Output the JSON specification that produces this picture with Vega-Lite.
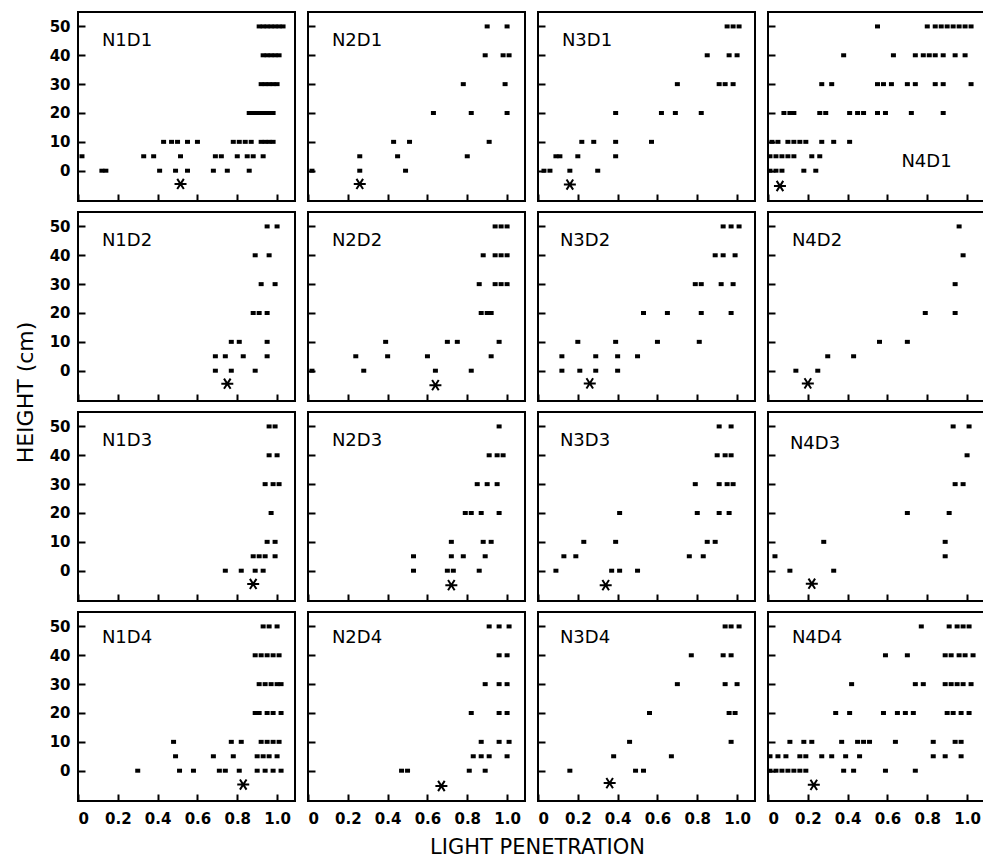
{
"$schema":"https://vega.github.io/schema/vega-lite/v6.json",
"background":"white",
"padding":{"left":13,"top":11,"right":0,"bottom":0},
"columns":4,
"spacing":{"row":11,"column":13},
"bounds":"flush",
"config":{
 "view":{"stroke":"black","strokeWidth":2},
 "axis":{"domain":false,"grid":false,"zindex":1,"labelOverlap":false,"tickSize":-7,"tickWidth":2,"tickColor":"black","labelColor":"black","labelFont":"DejaVu Sans","labelFontSize":15,"labelFontWeight":"bold","titleFont":"DejaVu Sans","titleFontWeight":"normal","titleColor":"black","titleFontSize":21}
},
"datasets":{
"obs":[
{"p":"N1D1","h":0,"l":0.12},{"p":"N1D1","h":0,"l":0.14},{"p":"N1D1","h":0,"l":0.41},{"p":"N1D1","h":0,"l":0.49},{"p":"N1D1","h":0,"l":0.55},{"p":"N1D1","h":0,"l":0.68},{"p":"N1D1","h":0,"l":0.75},{"p":"N1D1","h":0,"l":0.86},
{"p":"N1D1","h":5,"l":0.02},{"p":"N1D1","h":5,"l":0.33},{"p":"N1D1","h":5,"l":0.38},{"p":"N1D1","h":5,"l":0.515},{"p":"N1D1","h":5,"l":0.69},{"p":"N1D1","h":5,"l":0.72},{"p":"N1D1","h":5,"l":0.80},{"p":"N1D1","h":5,"l":0.85},{"p":"N1D1","h":5,"l":0.88},{"p":"N1D1","h":5,"l":0.93},
{"p":"N1D1","h":10,"l":0.43},{"p":"N1D1","h":10,"l":0.47},{"p":"N1D1","h":10,"l":0.50},{"p":"N1D1","h":10,"l":0.55},{"p":"N1D1","h":10,"l":0.60},{"p":"N1D1","h":10,"l":0.78},{"p":"N1D1","h":10,"l":0.81},{"p":"N1D1","h":10,"l":0.84},{"p":"N1D1","h":10,"l":0.87},{"p":"N1D1","h":10,"l":0.92},{"p":"N1D1","h":10,"l":0.94},{"p":"N1D1","h":10,"l":0.96},{"p":"N1D1","h":10,"l":0.98},
{"p":"N1D1","h":20,"l":0.86},{"p":"N1D1","h":20,"l":0.88},{"p":"N1D1","h":20,"l":0.90},{"p":"N1D1","h":20,"l":0.92},{"p":"N1D1","h":20,"l":0.94},{"p":"N1D1","h":20,"l":0.96},{"p":"N1D1","h":20,"l":0.98},
{"p":"N1D1","h":30,"l":0.92},{"p":"N1D1","h":30,"l":0.94},{"p":"N1D1","h":30,"l":0.96},{"p":"N1D1","h":30,"l":0.98},{"p":"N1D1","h":30,"l":1.0},
{"p":"N1D1","h":40,"l":0.93},{"p":"N1D1","h":40,"l":0.95},{"p":"N1D1","h":40,"l":0.97},{"p":"N1D1","h":40,"l":0.99},{"p":"N1D1","h":40,"l":1.01},
{"p":"N1D1","h":50,"l":0.91},{"p":"N1D1","h":50,"l":0.93},{"p":"N1D1","h":50,"l":0.95},{"p":"N1D1","h":50,"l":0.97},{"p":"N1D1","h":50,"l":0.99},{"p":"N1D1","h":50,"l":1.01},{"p":"N1D1","h":50,"l":1.03},

{"p":"N2D1","h":0,"l":0.02},{"p":"N2D1","h":0,"l":0.26},{"p":"N2D1","h":0,"l":0.49},
{"p":"N2D1","h":5,"l":0.26},{"p":"N2D1","h":5,"l":0.45},{"p":"N2D1","h":5,"l":0.80},
{"p":"N2D1","h":10,"l":0.43},{"p":"N2D1","h":10,"l":0.51},{"p":"N2D1","h":10,"l":0.91},
{"p":"N2D1","h":20,"l":0.63},{"p":"N2D1","h":20,"l":0.82},{"p":"N2D1","h":20,"l":1.0},
{"p":"N2D1","h":30,"l":0.78},{"p":"N2D1","h":30,"l":0.99},
{"p":"N2D1","h":40,"l":0.89},{"p":"N2D1","h":40,"l":0.98},{"p":"N2D1","h":40,"l":1.01},
{"p":"N2D1","h":50,"l":0.90},{"p":"N2D1","h":50,"l":1.0},

{"p":"N3D1","h":0,"l":0.03},{"p":"N3D1","h":0,"l":0.06},{"p":"N3D1","h":0,"l":0.16},{"p":"N3D1","h":0,"l":0.30},
{"p":"N3D1","h":5,"l":0.09},{"p":"N3D1","h":5,"l":0.11},{"p":"N3D1","h":5,"l":0.20},{"p":"N3D1","h":5,"l":0.39},
{"p":"N3D1","h":10,"l":0.22},{"p":"N3D1","h":10,"l":0.28},{"p":"N3D1","h":10,"l":0.39},{"p":"N3D1","h":10,"l":0.57},
{"p":"N3D1","h":20,"l":0.39},{"p":"N3D1","h":20,"l":0.62},{"p":"N3D1","h":20,"l":0.69},{"p":"N3D1","h":20,"l":0.82},
{"p":"N3D1","h":30,"l":0.70},{"p":"N3D1","h":30,"l":0.91},{"p":"N3D1","h":30,"l":0.94},{"p":"N3D1","h":30,"l":0.98},
{"p":"N3D1","h":40,"l":0.85},{"p":"N3D1","h":40,"l":0.96},{"p":"N3D1","h":40,"l":1.0},
{"p":"N3D1","h":50,"l":0.95},{"p":"N3D1","h":50,"l":0.98},{"p":"N3D1","h":50,"l":1.01},

{"p":"N4D1","h":0,"l":0.01},{"p":"N4D1","h":0,"l":0.04},{"p":"N4D1","h":0,"l":0.07},{"p":"N4D1","h":0,"l":0.18},{"p":"N4D1","h":0,"l":0.24},
{"p":"N4D1","h":5,"l":0.01},{"p":"N4D1","h":5,"l":0.04},{"p":"N4D1","h":5,"l":0.07},{"p":"N4D1","h":5,"l":0.10},{"p":"N4D1","h":5,"l":0.13},{"p":"N4D1","h":5,"l":0.22},{"p":"N4D1","h":5,"l":0.26},
{"p":"N4D1","h":10,"l":0.02},{"p":"N4D1","h":10,"l":0.05},{"p":"N4D1","h":10,"l":0.10},{"p":"N4D1","h":10,"l":0.13},{"p":"N4D1","h":10,"l":0.16},{"p":"N4D1","h":10,"l":0.19},{"p":"N4D1","h":10,"l":0.27},{"p":"N4D1","h":10,"l":0.33},{"p":"N4D1","h":10,"l":0.41},
{"p":"N4D1","h":20,"l":0.08},{"p":"N4D1","h":20,"l":0.11},{"p":"N4D1","h":20,"l":0.13},{"p":"N4D1","h":20,"l":0.26},{"p":"N4D1","h":20,"l":0.29},{"p":"N4D1","h":20,"l":0.41},{"p":"N4D1","h":20,"l":0.45},{"p":"N4D1","h":20,"l":0.48},{"p":"N4D1","h":20,"l":0.55},{"p":"N4D1","h":20,"l":0.59},{"p":"N4D1","h":20,"l":0.72},{"p":"N4D1","h":20,"l":0.88},
{"p":"N4D1","h":30,"l":0.27},{"p":"N4D1","h":30,"l":0.32},{"p":"N4D1","h":30,"l":0.55},{"p":"N4D1","h":30,"l":0.58},{"p":"N4D1","h":30,"l":0.62},{"p":"N4D1","h":30,"l":0.70},{"p":"N4D1","h":30,"l":0.74},{"p":"N4D1","h":30,"l":0.84},{"p":"N4D1","h":30,"l":0.88},{"p":"N4D1","h":30,"l":1.02},
{"p":"N4D1","h":40,"l":0.38},{"p":"N4D1","h":40,"l":0.63},{"p":"N4D1","h":40,"l":0.74},{"p":"N4D1","h":40,"l":0.78},{"p":"N4D1","h":40,"l":0.81},{"p":"N4D1","h":40,"l":0.84},{"p":"N4D1","h":40,"l":0.88},{"p":"N4D1","h":40,"l":0.94},{"p":"N4D1","h":40,"l":0.99},
{"p":"N4D1","h":50,"l":0.55},{"p":"N4D1","h":50,"l":0.80},{"p":"N4D1","h":50,"l":0.84},{"p":"N4D1","h":50,"l":0.87},{"p":"N4D1","h":50,"l":0.90},{"p":"N4D1","h":50,"l":0.93},{"p":"N4D1","h":50,"l":0.96},{"p":"N4D1","h":50,"l":0.99},{"p":"N4D1","h":50,"l":1.02},

{"p":"N1D2","h":0,"l":0.69},{"p":"N1D2","h":0,"l":0.77},{"p":"N1D2","h":0,"l":0.89},
{"p":"N1D2","h":5,"l":0.69},{"p":"N1D2","h":5,"l":0.74},{"p":"N1D2","h":5,"l":0.83},{"p":"N1D2","h":5,"l":0.95},
{"p":"N1D2","h":10,"l":0.77},{"p":"N1D2","h":10,"l":0.81},{"p":"N1D2","h":10,"l":0.95},
{"p":"N1D2","h":20,"l":0.88},{"p":"N1D2","h":20,"l":0.91},{"p":"N1D2","h":20,"l":0.95},
{"p":"N1D2","h":30,"l":0.92},{"p":"N1D2","h":30,"l":0.99},
{"p":"N1D2","h":40,"l":0.89},{"p":"N1D2","h":40,"l":0.96},
{"p":"N1D2","h":50,"l":0.95},{"p":"N1D2","h":50,"l":1.0},

{"p":"N2D2","h":0,"l":0.02},{"p":"N2D2","h":0,"l":0.28},{"p":"N2D2","h":0,"l":0.64},{"p":"N2D2","h":0,"l":0.82},
{"p":"N2D2","h":5,"l":0.24},{"p":"N2D2","h":5,"l":0.40},{"p":"N2D2","h":5,"l":0.60},{"p":"N2D2","h":5,"l":0.92},
{"p":"N2D2","h":10,"l":0.39},{"p":"N2D2","h":10,"l":0.70},{"p":"N2D2","h":10,"l":0.75},{"p":"N2D2","h":10,"l":0.96},
{"p":"N2D2","h":20,"l":0.87},{"p":"N2D2","h":20,"l":0.90},{"p":"N2D2","h":20,"l":0.92},
{"p":"N2D2","h":30,"l":0.86},{"p":"N2D2","h":30,"l":0.94},{"p":"N2D2","h":30,"l":0.97},{"p":"N2D2","h":30,"l":1.0},
{"p":"N2D2","h":40,"l":0.88},{"p":"N2D2","h":40,"l":0.94},{"p":"N2D2","h":40,"l":0.97},{"p":"N2D2","h":40,"l":1.0},
{"p":"N2D2","h":50,"l":0.94},{"p":"N2D2","h":50,"l":0.97},{"p":"N2D2","h":50,"l":1.0},

{"p":"N3D2","h":0,"l":0.12},{"p":"N3D2","h":0,"l":0.21},{"p":"N3D2","h":0,"l":0.29},{"p":"N3D2","h":0,"l":0.40},
{"p":"N3D2","h":5,"l":0.12},{"p":"N3D2","h":5,"l":0.29},{"p":"N3D2","h":5,"l":0.40},{"p":"N3D2","h":5,"l":0.50},
{"p":"N3D2","h":10,"l":0.20},{"p":"N3D2","h":10,"l":0.39},{"p":"N3D2","h":10,"l":0.60},{"p":"N3D2","h":10,"l":0.81},
{"p":"N3D2","h":20,"l":0.53},{"p":"N3D2","h":20,"l":0.65},{"p":"N3D2","h":20,"l":0.82},{"p":"N3D2","h":20,"l":0.97},
{"p":"N3D2","h":30,"l":0.79},{"p":"N3D2","h":30,"l":0.82},{"p":"N3D2","h":30,"l":0.92},{"p":"N3D2","h":30,"l":0.98},
{"p":"N3D2","h":40,"l":0.89},{"p":"N3D2","h":40,"l":0.93},{"p":"N3D2","h":40,"l":0.99},
{"p":"N3D2","h":50,"l":0.93},{"p":"N3D2","h":50,"l":0.97},{"p":"N3D2","h":50,"l":1.01},

{"p":"N4D2","h":0,"l":0.14},{"p":"N4D2","h":0,"l":0.25},
{"p":"N4D2","h":5,"l":0.30},{"p":"N4D2","h":5,"l":0.43},
{"p":"N4D2","h":10,"l":0.56},{"p":"N4D2","h":10,"l":0.70},
{"p":"N4D2","h":20,"l":0.79},{"p":"N4D2","h":20,"l":0.94},
{"p":"N4D2","h":30,"l":0.94},
{"p":"N4D2","h":40,"l":0.98},
{"p":"N4D2","h":50,"l":0.96},

{"p":"N1D3","h":0,"l":0.74},{"p":"N1D3","h":0,"l":0.82},{"p":"N1D3","h":0,"l":0.89},{"p":"N1D3","h":0,"l":0.93},
{"p":"N1D3","h":5,"l":0.88},{"p":"N1D3","h":5,"l":0.91},{"p":"N1D3","h":5,"l":0.94},{"p":"N1D3","h":5,"l":0.99},
{"p":"N1D3","h":10,"l":0.95},{"p":"N1D3","h":10,"l":0.99},
{"p":"N1D3","h":20,"l":0.97},
{"p":"N1D3","h":30,"l":0.94},{"p":"N1D3","h":30,"l":0.98},{"p":"N1D3","h":30,"l":1.01},
{"p":"N1D3","h":40,"l":0.96},{"p":"N1D3","h":40,"l":1.0},
{"p":"N1D3","h":50,"l":0.96},{"p":"N1D3","h":50,"l":0.99},

{"p":"N2D3","h":0,"l":0.53},{"p":"N2D3","h":0,"l":0.70},{"p":"N2D3","h":0,"l":0.73},{"p":"N2D3","h":0,"l":0.86},
{"p":"N2D3","h":5,"l":0.53},{"p":"N2D3","h":5,"l":0.72},{"p":"N2D3","h":5,"l":0.78},{"p":"N2D3","h":5,"l":0.89},
{"p":"N2D3","h":10,"l":0.72},{"p":"N2D3","h":10,"l":0.88},{"p":"N2D3","h":10,"l":0.92},
{"p":"N2D3","h":20,"l":0.79},{"p":"N2D3","h":20,"l":0.82},{"p":"N2D3","h":20,"l":0.87},{"p":"N2D3","h":20,"l":0.96},
{"p":"N2D3","h":30,"l":0.85},{"p":"N2D3","h":30,"l":0.90},{"p":"N2D3","h":30,"l":0.95},
{"p":"N2D3","h":40,"l":0.91},{"p":"N2D3","h":40,"l":0.95},{"p":"N2D3","h":40,"l":0.98},
{"p":"N2D3","h":50,"l":0.96},

{"p":"N3D3","h":0,"l":0.09},{"p":"N3D3","h":0,"l":0.37},{"p":"N3D3","h":0,"l":0.41},{"p":"N3D3","h":0,"l":0.50},
{"p":"N3D3","h":5,"l":0.13},{"p":"N3D3","h":5,"l":0.19},{"p":"N3D3","h":5,"l":0.76},{"p":"N3D3","h":5,"l":0.83},
{"p":"N3D3","h":10,"l":0.23},{"p":"N3D3","h":10,"l":0.39},{"p":"N3D3","h":10,"l":0.85},{"p":"N3D3","h":10,"l":0.89},
{"p":"N3D3","h":20,"l":0.41},{"p":"N3D3","h":20,"l":0.80},{"p":"N3D3","h":20,"l":0.91},{"p":"N3D3","h":20,"l":0.96},
{"p":"N3D3","h":30,"l":0.79},{"p":"N3D3","h":30,"l":0.91},{"p":"N3D3","h":30,"l":0.95},{"p":"N3D3","h":30,"l":0.98},
{"p":"N3D3","h":40,"l":0.90},{"p":"N3D3","h":40,"l":0.94},{"p":"N3D3","h":40,"l":0.97},
{"p":"N3D3","h":50,"l":0.91},{"p":"N3D3","h":50,"l":0.97},

{"p":"N4D3","h":0,"l":0.11},{"p":"N4D3","h":0,"l":0.33},
{"p":"N4D3","h":5,"l":0.035},{"p":"N4D3","h":5,"l":0.89},
{"p":"N4D3","h":10,"l":0.28},{"p":"N4D3","h":10,"l":0.89},
{"p":"N4D3","h":20,"l":0.70},{"p":"N4D3","h":20,"l":0.91},
{"p":"N4D3","h":30,"l":0.94},{"p":"N4D3","h":30,"l":0.98},
{"p":"N4D3","h":40,"l":1.0},
{"p":"N4D3","h":50,"l":0.93},{"p":"N4D3","h":50,"l":1.01},

{"p":"N1D4","h":0,"l":0.30},{"p":"N1D4","h":0,"l":0.51},{"p":"N1D4","h":0,"l":0.58},{"p":"N1D4","h":0,"l":0.71},{"p":"N1D4","h":0,"l":0.74},{"p":"N1D4","h":0,"l":0.81},{"p":"N1D4","h":0,"l":0.90},{"p":"N1D4","h":0,"l":0.94},{"p":"N1D4","h":0,"l":0.98},{"p":"N1D4","h":0,"l":1.02},
{"p":"N1D4","h":5,"l":0.49},{"p":"N1D4","h":5,"l":0.68},{"p":"N1D4","h":5,"l":0.78},{"p":"N1D4","h":5,"l":0.90},{"p":"N1D4","h":5,"l":0.93},{"p":"N1D4","h":5,"l":0.96},{"p":"N1D4","h":5,"l":1.0},
{"p":"N1D4","h":10,"l":0.48},{"p":"N1D4","h":10,"l":0.77},{"p":"N1D4","h":10,"l":0.82},{"p":"N1D4","h":10,"l":0.92},{"p":"N1D4","h":10,"l":0.95},{"p":"N1D4","h":10,"l":0.98},{"p":"N1D4","h":10,"l":1.01},
{"p":"N1D4","h":20,"l":0.89},{"p":"N1D4","h":20,"l":0.91},{"p":"N1D4","h":20,"l":0.95},{"p":"N1D4","h":20,"l":0.98},{"p":"N1D4","h":20,"l":1.02},
{"p":"N1D4","h":30,"l":0.91},{"p":"N1D4","h":30,"l":0.94},{"p":"N1D4","h":30,"l":0.97},{"p":"N1D4","h":30,"l":1.0},{"p":"N1D4","h":30,"l":1.02},
{"p":"N1D4","h":40,"l":0.89},{"p":"N1D4","h":40,"l":0.92},{"p":"N1D4","h":40,"l":0.95},{"p":"N1D4","h":40,"l":0.98},{"p":"N1D4","h":40,"l":1.01},
{"p":"N1D4","h":50,"l":0.93},{"p":"N1D4","h":50,"l":0.96},{"p":"N1D4","h":50,"l":1.0},

{"p":"N2D4","h":0,"l":0.47},{"p":"N2D4","h":0,"l":0.50},{"p":"N2D4","h":0,"l":0.81},{"p":"N2D4","h":0,"l":0.89},
{"p":"N2D4","h":5,"l":0.83},{"p":"N2D4","h":5,"l":0.87},{"p":"N2D4","h":5,"l":0.91},{"p":"N2D4","h":5,"l":1.0},
{"p":"N2D4","h":10,"l":0.87},{"p":"N2D4","h":10,"l":0.96},{"p":"N2D4","h":10,"l":1.01},
{"p":"N2D4","h":20,"l":0.82},{"p":"N2D4","h":20,"l":0.96},{"p":"N2D4","h":20,"l":1.0},
{"p":"N2D4","h":30,"l":0.89},{"p":"N2D4","h":30,"l":0.96},{"p":"N2D4","h":30,"l":1.0},
{"p":"N2D4","h":40,"l":0.96},{"p":"N2D4","h":40,"l":1.0},
{"p":"N2D4","h":50,"l":0.91},{"p":"N2D4","h":50,"l":0.96},{"p":"N2D4","h":50,"l":1.01},

{"p":"N3D4","h":0,"l":0.16},{"p":"N3D4","h":0,"l":0.49},{"p":"N3D4","h":0,"l":0.53},
{"p":"N3D4","h":5,"l":0.38},{"p":"N3D4","h":5,"l":0.67},
{"p":"N3D4","h":10,"l":0.46},{"p":"N3D4","h":10,"l":0.97},
{"p":"N3D4","h":20,"l":0.56},{"p":"N3D4","h":20,"l":0.96},{"p":"N3D4","h":20,"l":0.99},
{"p":"N3D4","h":30,"l":0.70},{"p":"N3D4","h":30,"l":0.94},{"p":"N3D4","h":30,"l":1.0},
{"p":"N3D4","h":40,"l":0.77},{"p":"N3D4","h":40,"l":0.93},{"p":"N3D4","h":40,"l":0.97},
{"p":"N3D4","h":50,"l":0.94},{"p":"N3D4","h":50,"l":0.97},{"p":"N3D4","h":50,"l":1.01},

{"p":"N4D4","h":0,"l":0.01},{"p":"N4D4","h":0,"l":0.04},{"p":"N4D4","h":0,"l":0.07},{"p":"N4D4","h":0,"l":0.10},{"p":"N4D4","h":0,"l":0.13},{"p":"N4D4","h":0,"l":0.16},{"p":"N4D4","h":0,"l":0.19},{"p":"N4D4","h":0,"l":0.38},{"p":"N4D4","h":0,"l":0.43},{"p":"N4D4","h":0,"l":0.59},{"p":"N4D4","h":0,"l":0.74},
{"p":"N4D4","h":5,"l":0.01},{"p":"N4D4","h":5,"l":0.05},{"p":"N4D4","h":5,"l":0.09},{"p":"N4D4","h":5,"l":0.16},{"p":"N4D4","h":5,"l":0.19},{"p":"N4D4","h":5,"l":0.27},{"p":"N4D4","h":5,"l":0.32},{"p":"N4D4","h":5,"l":0.39},{"p":"N4D4","h":5,"l":0.46},{"p":"N4D4","h":5,"l":0.83},{"p":"N4D4","h":5,"l":0.89},{"p":"N4D4","h":5,"l":0.97},
{"p":"N4D4","h":10,"l":0.11},{"p":"N4D4","h":10,"l":0.18},{"p":"N4D4","h":10,"l":0.22},{"p":"N4D4","h":10,"l":0.37},{"p":"N4D4","h":10,"l":0.45},{"p":"N4D4","h":10,"l":0.48},{"p":"N4D4","h":10,"l":0.51},{"p":"N4D4","h":10,"l":0.64},{"p":"N4D4","h":10,"l":0.83},{"p":"N4D4","h":10,"l":0.94},{"p":"N4D4","h":10,"l":0.97},
{"p":"N4D4","h":20,"l":0.34},{"p":"N4D4","h":20,"l":0.41},{"p":"N4D4","h":20,"l":0.58},{"p":"N4D4","h":20,"l":0.65},{"p":"N4D4","h":20,"l":0.69},{"p":"N4D4","h":20,"l":0.73},{"p":"N4D4","h":20,"l":0.90},{"p":"N4D4","h":20,"l":0.93},{"p":"N4D4","h":20,"l":0.97},{"p":"N4D4","h":20,"l":1.01},
{"p":"N4D4","h":30,"l":0.42},{"p":"N4D4","h":30,"l":0.74},{"p":"N4D4","h":30,"l":0.78},{"p":"N4D4","h":30,"l":0.89},{"p":"N4D4","h":30,"l":0.92},{"p":"N4D4","h":30,"l":0.95},{"p":"N4D4","h":30,"l":0.98},{"p":"N4D4","h":30,"l":1.02},
{"p":"N4D4","h":40,"l":0.59},{"p":"N4D4","h":40,"l":0.70},{"p":"N4D4","h":40,"l":0.89},{"p":"N4D4","h":40,"l":0.92},{"p":"N4D4","h":40,"l":0.96},{"p":"N4D4","h":40,"l":0.99},{"p":"N4D4","h":40,"l":1.03},
{"p":"N4D4","h":50,"l":0.77},{"p":"N4D4","h":50,"l":0.91},{"p":"N4D4","h":50,"l":0.95},{"p":"N4D4","h":50,"l":0.98},{"p":"N4D4","h":50,"l":1.01}
],
"means":[
{"p":"N1D1","l":0.515,"h":-4.6},{"p":"N2D1","l":0.26,"h":-4.6},{"p":"N3D1","l":0.16,"h":-4.8},{"p":"N4D1","l":0.06,"h":-5.3},
{"p":"N1D2","l":0.75,"h":-4.5},{"p":"N2D2","l":0.64,"h":-5.0},{"p":"N3D2","l":0.26,"h":-4.4},{"p":"N4D2","l":0.20,"h":-4.4},
{"p":"N1D3","l":0.88,"h":-4.6},{"p":"N2D3","l":0.72,"h":-5.0},{"p":"N3D3","l":0.34,"h":-5.0},{"p":"N4D3","l":0.22,"h":-4.5},
{"p":"N1D4","l":0.83,"h":-4.8},{"p":"N2D4","l":0.67,"h":-5.3},{"p":"N3D4","l":0.36,"h":-4.3},{"p":"N4D4","l":0.23,"h":-4.9}
]
},
"concat":[
{"width":217,"height":189,"layer":[
 {"data":{"name":"obs"},"transform":[{"filter":"datum.p=='N1D1'"}],"mark":{"type":"point","shape":"M-1,-0.8H1V0.8H-1Z","filled":true,"size":25,"color":"black","opacity":1,"clip":true},
  "encoding":{"x":{"field":"l","type":"quantitative","scale":{"domain":[0,1.09],"nice":false,"zero":false},"axis":{"values":[0,0.2,0.4,0.6,0.8,1],"tickCount":12,"title":null,"labels":false}},
   "y":{"field":"h","type":"quantitative","scale":{"domain":[-10.5,55],"nice":false,"zero":false},"axis":{"values":[0,10,20,30,40,50],"tickCount":12,"title":null,"labelPadding":15}}}},
 {"data":{"name":"means"},"transform":[{"filter":"datum.p=='N1D1'"}],"mark":{"type":"point","shape":"M-1,0L1,0M-0.55,-0.85L0.55,0.85M-0.55,0.85L0.55,-0.85","filled":false,"size":144,"strokeWidth":2,"color":"black","opacity":1},
  "encoding":{"x":{"field":"l","type":"quantitative"},"y":{"field":"h","type":"quantitative"}}},
 {"data":{"name":"means"},"transform":[{"filter":"datum.p=='N1D1'"}],"mark":{"type":"text","align":"left","baseline":"middle","font":"DejaVu Sans","fontSize":18,"color":"black"},
  "encoding":{"x":{"datum":0.12},"y":{"datum":45},"text":{"field":"p"}}}
]},
{"width":217,"height":189,"layer":[
 {"data":{"name":"obs"},"transform":[{"filter":"datum.p=='N2D1'"}],"mark":{"type":"point","shape":"M-1,-0.8H1V0.8H-1Z","filled":true,"size":25,"color":"black","opacity":1,"clip":true},
  "encoding":{"x":{"field":"l","type":"quantitative","scale":{"domain":[0,1.09],"nice":false,"zero":false},"axis":{"values":[0,0.2,0.4,0.6,0.8,1],"tickCount":12,"title":null,"labels":false}},
   "y":{"field":"h","type":"quantitative","scale":{"domain":[-10.5,55],"nice":false,"zero":false},"axis":{"values":[0,10,20,30,40,50],"tickCount":12,"title":null,"labels":false}}}},
 {"data":{"name":"means"},"transform":[{"filter":"datum.p=='N2D1'"}],"mark":{"type":"point","shape":"M-1,0L1,0M-0.55,-0.85L0.55,0.85M-0.55,0.85L0.55,-0.85","filled":false,"size":144,"strokeWidth":2,"color":"black","opacity":1},
  "encoding":{"x":{"field":"l","type":"quantitative"},"y":{"field":"h","type":"quantitative"}}},
 {"data":{"name":"means"},"transform":[{"filter":"datum.p=='N2D1'"}],"mark":{"type":"text","align":"left","baseline":"middle","font":"DejaVu Sans","fontSize":18,"color":"black"},
  "encoding":{"x":{"datum":0.12},"y":{"datum":45},"text":{"field":"p"}}}
]},
{"width":217,"height":189,"layer":[
 {"data":{"name":"obs"},"transform":[{"filter":"datum.p=='N3D1'"}],"mark":{"type":"point","shape":"M-1,-0.8H1V0.8H-1Z","filled":true,"size":25,"color":"black","opacity":1,"clip":true},
  "encoding":{"x":{"field":"l","type":"quantitative","scale":{"domain":[0,1.09],"nice":false,"zero":false},"axis":{"values":[0,0.2,0.4,0.6,0.8,1],"tickCount":12,"title":null,"labels":false}},
   "y":{"field":"h","type":"quantitative","scale":{"domain":[-10.5,55],"nice":false,"zero":false},"axis":{"values":[0,10,20,30,40,50],"tickCount":12,"title":null,"labels":false}}}},
 {"data":{"name":"means"},"transform":[{"filter":"datum.p=='N3D1'"}],"mark":{"type":"point","shape":"M-1,0L1,0M-0.55,-0.85L0.55,0.85M-0.55,0.85L0.55,-0.85","filled":false,"size":144,"strokeWidth":2,"color":"black","opacity":1},
  "encoding":{"x":{"field":"l","type":"quantitative"},"y":{"field":"h","type":"quantitative"}}},
 {"data":{"name":"means"},"transform":[{"filter":"datum.p=='N3D1'"}],"mark":{"type":"text","align":"left","baseline":"middle","font":"DejaVu Sans","fontSize":18,"color":"black"},
  "encoding":{"x":{"datum":0.12},"y":{"datum":45},"text":{"field":"p"}}}
]},
{"width":217,"height":189,"layer":[
 {"data":{"name":"obs"},"transform":[{"filter":"datum.p=='N4D1'"}],"mark":{"type":"point","shape":"M-1,-0.8H1V0.8H-1Z","filled":true,"size":25,"color":"black","opacity":1,"clip":true},
  "encoding":{"x":{"field":"l","type":"quantitative","scale":{"domain":[0,1.09],"nice":false,"zero":false},"axis":{"values":[0,0.2,0.4,0.6,0.8,1],"tickCount":12,"title":null,"labels":false}},
   "y":{"field":"h","type":"quantitative","scale":{"domain":[-10.5,55],"nice":false,"zero":false},"axis":{"values":[0,10,20,30,40,50],"tickCount":12,"title":null,"labels":false}}}},
 {"data":{"name":"means"},"transform":[{"filter":"datum.p=='N4D1'"}],"mark":{"type":"point","shape":"M-1,0L1,0M-0.55,-0.85L0.55,0.85M-0.55,0.85L0.55,-0.85","filled":false,"size":144,"strokeWidth":2,"color":"black","opacity":1},
  "encoding":{"x":{"field":"l","type":"quantitative"},"y":{"field":"h","type":"quantitative"}}},
 {"data":{"name":"means"},"transform":[{"filter":"datum.p=='N4D1'"}],"mark":{"type":"text","align":"left","baseline":"middle","font":"DejaVu Sans","fontSize":18,"color":"black"},
  "encoding":{"x":{"datum":0.67},"y":{"datum":3},"text":{"field":"p"}}}
]},

{"width":217,"height":189,"layer":[
 {"data":{"name":"obs"},"transform":[{"filter":"datum.p=='N1D2'"}],"mark":{"type":"point","shape":"M-1,-0.8H1V0.8H-1Z","filled":true,"size":25,"color":"black","opacity":1,"clip":true},
  "encoding":{"x":{"field":"l","type":"quantitative","scale":{"domain":[0,1.09],"nice":false,"zero":false},"axis":{"values":[0,0.2,0.4,0.6,0.8,1],"tickCount":12,"title":null,"labels":false}},
   "y":{"field":"h","type":"quantitative","scale":{"domain":[-10.5,55],"nice":false,"zero":false},"axis":{"values":[0,10,20,30,40,50],"tickCount":12,"title":"HEIGHT (cm)","titleY":180,"titlePadding":12,"titleFontSize":22,"labelPadding":15}}}},
 {"data":{"name":"means"},"transform":[{"filter":"datum.p=='N1D2'"}],"mark":{"type":"point","shape":"M-1,0L1,0M-0.55,-0.85L0.55,0.85M-0.55,0.85L0.55,-0.85","filled":false,"size":144,"strokeWidth":2,"color":"black","opacity":1},
  "encoding":{"x":{"field":"l","type":"quantitative"},"y":{"field":"h","type":"quantitative"}}},
 {"data":{"name":"means"},"transform":[{"filter":"datum.p=='N1D2'"}],"mark":{"type":"text","align":"left","baseline":"middle","font":"DejaVu Sans","fontSize":18,"color":"black"},
  "encoding":{"x":{"datum":0.12},"y":{"datum":45},"text":{"field":"p"}}}
]},
{"width":217,"height":189,"layer":[
 {"data":{"name":"obs"},"transform":[{"filter":"datum.p=='N2D2'"}],"mark":{"type":"point","shape":"M-1,-0.8H1V0.8H-1Z","filled":true,"size":25,"color":"black","opacity":1,"clip":true},
  "encoding":{"x":{"field":"l","type":"quantitative","scale":{"domain":[0,1.09],"nice":false,"zero":false},"axis":{"values":[0,0.2,0.4,0.6,0.8,1],"tickCount":12,"title":null,"labels":false}},
   "y":{"field":"h","type":"quantitative","scale":{"domain":[-10.5,55],"nice":false,"zero":false},"axis":{"values":[0,10,20,30,40,50],"tickCount":12,"title":null,"labels":false}}}},
 {"data":{"name":"means"},"transform":[{"filter":"datum.p=='N2D2'"}],"mark":{"type":"point","shape":"M-1,0L1,0M-0.55,-0.85L0.55,0.85M-0.55,0.85L0.55,-0.85","filled":false,"size":144,"strokeWidth":2,"color":"black","opacity":1},
  "encoding":{"x":{"field":"l","type":"quantitative"},"y":{"field":"h","type":"quantitative"}}},
 {"data":{"name":"means"},"transform":[{"filter":"datum.p=='N2D2'"}],"mark":{"type":"text","align":"left","baseline":"middle","font":"DejaVu Sans","fontSize":18,"color":"black"},
  "encoding":{"x":{"datum":0.12},"y":{"datum":45},"text":{"field":"p"}}}
]},
{"width":217,"height":189,"layer":[
 {"data":{"name":"obs"},"transform":[{"filter":"datum.p=='N3D2'"}],"mark":{"type":"point","shape":"M-1,-0.8H1V0.8H-1Z","filled":true,"size":25,"color":"black","opacity":1,"clip":true},
  "encoding":{"x":{"field":"l","type":"quantitative","scale":{"domain":[0,1.09],"nice":false,"zero":false},"axis":{"values":[0,0.2,0.4,0.6,0.8,1],"tickCount":12,"title":null,"labels":false}},
   "y":{"field":"h","type":"quantitative","scale":{"domain":[-10.5,55],"nice":false,"zero":false},"axis":{"values":[0,10,20,30,40,50],"tickCount":12,"title":null,"labels":false}}}},
 {"data":{"name":"means"},"transform":[{"filter":"datum.p=='N3D2'"}],"mark":{"type":"point","shape":"M-1,0L1,0M-0.55,-0.85L0.55,0.85M-0.55,0.85L0.55,-0.85","filled":false,"size":144,"strokeWidth":2,"color":"black","opacity":1},
  "encoding":{"x":{"field":"l","type":"quantitative"},"y":{"field":"h","type":"quantitative"}}},
 {"data":{"name":"means"},"transform":[{"filter":"datum.p=='N3D2'"}],"mark":{"type":"text","align":"left","baseline":"middle","font":"DejaVu Sans","fontSize":18,"color":"black"},
  "encoding":{"x":{"datum":0.11},"y":{"datum":45},"text":{"field":"p"}}}
]},
{"width":217,"height":189,"layer":[
 {"data":{"name":"obs"},"transform":[{"filter":"datum.p=='N4D2'"}],"mark":{"type":"point","shape":"M-1,-0.8H1V0.8H-1Z","filled":true,"size":25,"color":"black","opacity":1,"clip":true},
  "encoding":{"x":{"field":"l","type":"quantitative","scale":{"domain":[0,1.09],"nice":false,"zero":false},"axis":{"values":[0,0.2,0.4,0.6,0.8,1],"tickCount":12,"title":null,"labels":false}},
   "y":{"field":"h","type":"quantitative","scale":{"domain":[-10.5,55],"nice":false,"zero":false},"axis":{"values":[0,10,20,30,40,50],"tickCount":12,"title":null,"labels":false}}}},
 {"data":{"name":"means"},"transform":[{"filter":"datum.p=='N4D2'"}],"mark":{"type":"point","shape":"M-1,0L1,0M-0.55,-0.85L0.55,0.85M-0.55,0.85L0.55,-0.85","filled":false,"size":144,"strokeWidth":2,"color":"black","opacity":1},
  "encoding":{"x":{"field":"l","type":"quantitative"},"y":{"field":"h","type":"quantitative"}}},
 {"data":{"name":"means"},"transform":[{"filter":"datum.p=='N4D2'"}],"mark":{"type":"text","align":"left","baseline":"middle","font":"DejaVu Sans","fontSize":18,"color":"black"},
  "encoding":{"x":{"datum":0.12},"y":{"datum":45},"text":{"field":"p"}}}
]},

{"width":217,"height":189,"layer":[
 {"data":{"name":"obs"},"transform":[{"filter":"datum.p=='N1D3'"}],"mark":{"type":"point","shape":"M-1,-0.8H1V0.8H-1Z","filled":true,"size":25,"color":"black","opacity":1,"clip":true},
  "encoding":{"x":{"field":"l","type":"quantitative","scale":{"domain":[0,1.09],"nice":false,"zero":false},"axis":{"values":[0,0.2,0.4,0.6,0.8,1],"tickCount":12,"title":null,"labels":false}},
   "y":{"field":"h","type":"quantitative","scale":{"domain":[-10.5,55],"nice":false,"zero":false},"axis":{"values":[0,10,20,30,40,50],"tickCount":12,"title":null,"labelPadding":15}}}},
 {"data":{"name":"means"},"transform":[{"filter":"datum.p=='N1D3'"}],"mark":{"type":"point","shape":"M-1,0L1,0M-0.55,-0.85L0.55,0.85M-0.55,0.85L0.55,-0.85","filled":false,"size":144,"strokeWidth":2,"color":"black","opacity":1},
  "encoding":{"x":{"field":"l","type":"quantitative"},"y":{"field":"h","type":"quantitative"}}},
 {"data":{"name":"means"},"transform":[{"filter":"datum.p=='N1D3'"}],"mark":{"type":"text","align":"left","baseline":"middle","font":"DejaVu Sans","fontSize":18,"color":"black"},
  "encoding":{"x":{"datum":0.12},"y":{"datum":45},"text":{"field":"p"}}}
]},
{"width":217,"height":189,"layer":[
 {"data":{"name":"obs"},"transform":[{"filter":"datum.p=='N2D3'"}],"mark":{"type":"point","shape":"M-1,-0.8H1V0.8H-1Z","filled":true,"size":25,"color":"black","opacity":1,"clip":true},
  "encoding":{"x":{"field":"l","type":"quantitative","scale":{"domain":[0,1.09],"nice":false,"zero":false},"axis":{"values":[0,0.2,0.4,0.6,0.8,1],"tickCount":12,"title":null,"labels":false}},
   "y":{"field":"h","type":"quantitative","scale":{"domain":[-10.5,55],"nice":false,"zero":false},"axis":{"values":[0,10,20,30,40,50],"tickCount":12,"title":null,"labels":false}}}},
 {"data":{"name":"means"},"transform":[{"filter":"datum.p=='N2D3'"}],"mark":{"type":"point","shape":"M-1,0L1,0M-0.55,-0.85L0.55,0.85M-0.55,0.85L0.55,-0.85","filled":false,"size":144,"strokeWidth":2,"color":"black","opacity":1},
  "encoding":{"x":{"field":"l","type":"quantitative"},"y":{"field":"h","type":"quantitative"}}},
 {"data":{"name":"means"},"transform":[{"filter":"datum.p=='N2D3'"}],"mark":{"type":"text","align":"left","baseline":"middle","font":"DejaVu Sans","fontSize":18,"color":"black"},
  "encoding":{"x":{"datum":0.12},"y":{"datum":45},"text":{"field":"p"}}}
]},
{"width":217,"height":189,"layer":[
 {"data":{"name":"obs"},"transform":[{"filter":"datum.p=='N3D3'"}],"mark":{"type":"point","shape":"M-1,-0.8H1V0.8H-1Z","filled":true,"size":25,"color":"black","opacity":1,"clip":true},
  "encoding":{"x":{"field":"l","type":"quantitative","scale":{"domain":[0,1.09],"nice":false,"zero":false},"axis":{"values":[0,0.2,0.4,0.6,0.8,1],"tickCount":12,"title":null,"labels":false}},
   "y":{"field":"h","type":"quantitative","scale":{"domain":[-10.5,55],"nice":false,"zero":false},"axis":{"values":[0,10,20,30,40,50],"tickCount":12,"title":null,"labels":false}}}},
 {"data":{"name":"means"},"transform":[{"filter":"datum.p=='N3D3'"}],"mark":{"type":"point","shape":"M-1,0L1,0M-0.55,-0.85L0.55,0.85M-0.55,0.85L0.55,-0.85","filled":false,"size":144,"strokeWidth":2,"color":"black","opacity":1},
  "encoding":{"x":{"field":"l","type":"quantitative"},"y":{"field":"h","type":"quantitative"}}},
 {"data":{"name":"means"},"transform":[{"filter":"datum.p=='N3D3'"}],"mark":{"type":"text","align":"left","baseline":"middle","font":"DejaVu Sans","fontSize":18,"color":"black"},
  "encoding":{"x":{"datum":0.11},"y":{"datum":45},"text":{"field":"p"}}}
]},
{"width":217,"height":189,"layer":[
 {"data":{"name":"obs"},"transform":[{"filter":"datum.p=='N4D3'"}],"mark":{"type":"point","shape":"M-1,-0.8H1V0.8H-1Z","filled":true,"size":25,"color":"black","opacity":1,"clip":true},
  "encoding":{"x":{"field":"l","type":"quantitative","scale":{"domain":[0,1.09],"nice":false,"zero":false},"axis":{"values":[0,0.2,0.4,0.6,0.8,1],"tickCount":12,"title":null,"labels":false}},
   "y":{"field":"h","type":"quantitative","scale":{"domain":[-10.5,55],"nice":false,"zero":false},"axis":{"values":[0,10,20,30,40,50],"tickCount":12,"title":null,"labels":false}}}},
 {"data":{"name":"means"},"transform":[{"filter":"datum.p=='N4D3'"}],"mark":{"type":"point","shape":"M-1,0L1,0M-0.55,-0.85L0.55,0.85M-0.55,0.85L0.55,-0.85","filled":false,"size":144,"strokeWidth":2,"color":"black","opacity":1},
  "encoding":{"x":{"field":"l","type":"quantitative"},"y":{"field":"h","type":"quantitative"}}},
 {"data":{"name":"means"},"transform":[{"filter":"datum.p=='N4D3'"}],"mark":{"type":"text","align":"left","baseline":"middle","font":"DejaVu Sans","fontSize":18,"color":"black"},
  "encoding":{"x":{"datum":0.11},"y":{"datum":44},"text":{"field":"p"}}}
]},

{"width":217,"height":189,"layer":[
 {"data":{"name":"obs"},"transform":[{"filter":"datum.p=='N1D4'"}],"mark":{"type":"point","shape":"M-1,-0.8H1V0.8H-1Z","filled":true,"size":25,"color":"black","opacity":1,"clip":true},
  "encoding":{"x":{"field":"l","type":"quantitative","scale":{"domain":[0,1.09],"nice":false,"zero":false},"axis":{"values":[0,0.2,0.4,0.6,0.8,1],"tickCount":12,"title":null,"labelPadding":17,"labelExpr":"datum.value==0?'0':format(datum.value,'.1f')"}},
   "y":{"field":"h","type":"quantitative","scale":{"domain":[-10.5,55],"nice":false,"zero":false},"axis":{"values":[0,10,20,30,40,50],"tickCount":12,"title":null,"labelPadding":15}}}},
 {"data":{"name":"means"},"transform":[{"filter":"datum.p=='N1D4'"}],"mark":{"type":"point","shape":"M-1,0L1,0M-0.55,-0.85L0.55,0.85M-0.55,0.85L0.55,-0.85","filled":false,"size":144,"strokeWidth":2,"color":"black","opacity":1},
  "encoding":{"x":{"field":"l","type":"quantitative"},"y":{"field":"h","type":"quantitative"}}},
 {"data":{"name":"means"},"transform":[{"filter":"datum.p=='N1D4'"}],"mark":{"type":"text","align":"left","baseline":"middle","font":"DejaVu Sans","fontSize":18,"color":"black"},
  "encoding":{"x":{"datum":0.12},"y":{"datum":46},"text":{"field":"p"}}}
]},
{"width":217,"height":189,"layer":[
 {"data":{"name":"obs"},"transform":[{"filter":"datum.p=='N2D4'"}],"mark":{"type":"point","shape":"M-1,-0.8H1V0.8H-1Z","filled":true,"size":25,"color":"black","opacity":1,"clip":true},
  "encoding":{"x":{"field":"l","type":"quantitative","scale":{"domain":[0,1.09],"nice":false,"zero":false},"axis":{"values":[0,0.2,0.4,0.6,0.8,1],"tickCount":12,"title":"LIGHT PENETRATION","titleX":229,"titlePadding":10,"labelPadding":17,"labelExpr":"datum.value==0?'0':format(datum.value,'.1f')"}},
   "y":{"field":"h","type":"quantitative","scale":{"domain":[-10.5,55],"nice":false,"zero":false},"axis":{"values":[0,10,20,30,40,50],"tickCount":12,"title":null,"labels":false}}}},
 {"data":{"name":"means"},"transform":[{"filter":"datum.p=='N2D4'"}],"mark":{"type":"point","shape":"M-1,0L1,0M-0.55,-0.85L0.55,0.85M-0.55,0.85L0.55,-0.85","filled":false,"size":144,"strokeWidth":2,"color":"black","opacity":1},
  "encoding":{"x":{"field":"l","type":"quantitative"},"y":{"field":"h","type":"quantitative"}}},
 {"data":{"name":"means"},"transform":[{"filter":"datum.p=='N2D4'"}],"mark":{"type":"text","align":"left","baseline":"middle","font":"DejaVu Sans","fontSize":18,"color":"black"},
  "encoding":{"x":{"datum":0.12},"y":{"datum":46},"text":{"field":"p"}}}
]},
{"width":217,"height":189,"layer":[
 {"data":{"name":"obs"},"transform":[{"filter":"datum.p=='N3D4'"}],"mark":{"type":"point","shape":"M-1,-0.8H1V0.8H-1Z","filled":true,"size":25,"color":"black","opacity":1,"clip":true},
  "encoding":{"x":{"field":"l","type":"quantitative","scale":{"domain":[0,1.09],"nice":false,"zero":false},"axis":{"values":[0,0.2,0.4,0.6,0.8,1],"tickCount":12,"title":null,"labelPadding":17,"labelExpr":"datum.value==0?'0':format(datum.value,'.1f')"}},
   "y":{"field":"h","type":"quantitative","scale":{"domain":[-10.5,55],"nice":false,"zero":false},"axis":{"values":[0,10,20,30,40,50],"tickCount":12,"title":null,"labels":false}}}},
 {"data":{"name":"means"},"transform":[{"filter":"datum.p=='N3D4'"}],"mark":{"type":"point","shape":"M-1,0L1,0M-0.55,-0.85L0.55,0.85M-0.55,0.85L0.55,-0.85","filled":false,"size":144,"strokeWidth":2,"color":"black","opacity":1},
  "encoding":{"x":{"field":"l","type":"quantitative"},"y":{"field":"h","type":"quantitative"}}},
 {"data":{"name":"means"},"transform":[{"filter":"datum.p=='N3D4'"}],"mark":{"type":"text","align":"left","baseline":"middle","font":"DejaVu Sans","fontSize":18,"color":"black"},
  "encoding":{"x":{"datum":0.11},"y":{"datum":46},"text":{"field":"p"}}}
]},
{"width":217,"height":189,"layer":[
 {"data":{"name":"obs"},"transform":[{"filter":"datum.p=='N4D4'"}],"mark":{"type":"point","shape":"M-1,-0.8H1V0.8H-1Z","filled":true,"size":25,"color":"black","opacity":1,"clip":true},
  "encoding":{"x":{"field":"l","type":"quantitative","scale":{"domain":[0,1.09],"nice":false,"zero":false},"axis":{"values":[0,0.2,0.4,0.6,0.8,1],"tickCount":12,"title":null,"labelPadding":17,"labelExpr":"datum.value==0?'0':format(datum.value,'.1f')"}},
   "y":{"field":"h","type":"quantitative","scale":{"domain":[-10.5,55],"nice":false,"zero":false},"axis":{"values":[0,10,20,30,40,50],"tickCount":12,"title":null,"labels":false}}}},
 {"data":{"name":"means"},"transform":[{"filter":"datum.p=='N4D4'"}],"mark":{"type":"point","shape":"M-1,0L1,0M-0.55,-0.85L0.55,0.85M-0.55,0.85L0.55,-0.85","filled":false,"size":144,"strokeWidth":2,"color":"black","opacity":1},
  "encoding":{"x":{"field":"l","type":"quantitative"},"y":{"field":"h","type":"quantitative"}}},
 {"data":{"name":"means"},"transform":[{"filter":"datum.p=='N4D4'"}],"mark":{"type":"text","align":"left","baseline":"middle","font":"DejaVu Sans","fontSize":18,"color":"black"},
  "encoding":{"x":{"datum":0.12},"y":{"datum":46},"text":{"field":"p"}}}
]}
]
}
